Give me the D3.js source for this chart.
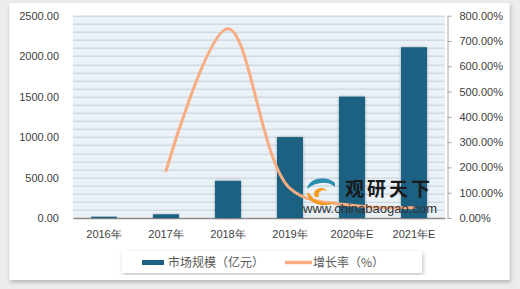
<!DOCTYPE html>
<html>
<head>
<meta charset="utf-8">
<script src="https://cdn.jsdelivr.net/npm/d3@7"></script>
<style>
  body { margin: 0; background: #ececec; }
  svg { display: block; font-family: "Liberation Sans", Arial, sans-serif; }
</style>
</head>
<body>
<div id="chart"></div>
<script>
// data
var years = ["2016年", "2017年", "2018年", "2019年", "2020年E", "2021年E"];
var market = [16, 46, 460, 1000, 1500, 2110];          // 市场规模（亿元）
var growth = [null, 187, 748, 117, 50, 41];            // 增长率（%）
var leftTicks = [0, 500, 1000, 1500, 2000, 2500];
var rightTicks = [0, 100, 200, 300, 400, 500, 600, 700, 800];

var W = 520, H = 289;
var margin = { left: 73, right: 75, top: 15.7, bottom: 71 };
var width = W - margin.left - margin.right,
    height = H - margin.top - margin.bottom;

var svg = d3.select("#chart").append("svg")
    .attr("width", W)
    .attr("height", H);

var defs = svg.append("defs");
var sh = defs.append("filter").attr("id", "shadow")
    .attr("x", "-20%").attr("y", "-20%").attr("width", "140%").attr("height", "140%");
sh.append("feDropShadow").attr("dx", 0).attr("dy", 0).attr("stdDeviation", 1.6)
    .attr("flood-color", "#000").attr("flood-opacity", 0.3);
var sh2 = defs.append("filter").attr("id", "frameShadow")
    .attr("x", "-5%").attr("y", "-5%").attr("width", "110%").attr("height", "110%");
sh2.append("feDropShadow").attr("dx", 1).attr("dy", 2).attr("stdDeviation", 2)
    .attr("flood-color", "#000").attr("flood-opacity", 0.25);

// white chart frame
svg.append("rect")
    .attr("x", 9.5).attr("y", 3).attr("width", 500).attr("height", 277)
    .attr("fill", "#fff").attr("filter", "url(#frameShadow)");

var g = svg.append("g")
    .attr("transform", "translate(" + margin.left + "," + margin.top + ")");

var x = d3.scaleBand().domain(years).range([0, width]).paddingInner(0.58).paddingOuter(0.29);
var y = d3.scaleLinear().domain([0, 2500]).range([height, 0]);
var y2 = d3.scaleLinear().domain([0, 800]).range([height, 0]);

// plot background + minor gridlines
g.append("rect").attr("width", width).attr("height", height).attr("fill", "#eaf1f7");
g.append("g")
  .selectAll("line")
  .data(d3.range(100, 2501, 100))
  .enter().append("line")
    .attr("x1", 0).attr("x2", width)
    .attr("y1", function(d) { return Math.round(y(d)) + 0.5; })
    .attr("y2", function(d) { return Math.round(y(d)) + 0.5; })
    .attr("stroke", "#c5ced7").attr("stroke-width", 1);

// left axis (labels only)
var ax = g.append("g")
    .call(d3.axisLeft(y).tickValues(leftTicks).tickFormat(d3.format(".2f")).tickSize(0).tickPadding(14));
ax.select(".domain").remove();
ax.selectAll("text").attr("font-size", 11).attr("fill", "#404040").attr("font-family", "Liberation Sans, Arial, sans-serif");

// right axis
var ax2 = g.append("g")
    .attr("transform", "translate(" + (width + 2.5) + ",0)")
    .call(d3.axisRight(y2).tickValues(rightTicks)
      .tickFormat(function(d) { return d3.format(".2f")(d) + "%"; })
      .tickSize(4).tickSizeOuter(0).tickPadding(8));
ax2.select(".domain").attr("stroke", "#a6a6a6");
ax2.selectAll(".tick line").attr("stroke", "#a6a6a6");
ax2.selectAll("text").attr("font-size", 11).attr("fill", "#404040").attr("font-family", "Liberation Sans, Arial, sans-serif");

// bottom axis
var ax3 = g.append("g")
    .attr("transform", "translate(0," + height + ")")
    .call(d3.axisBottom(x).tickSize(0).tickPadding(12));
ax3.select(".domain").attr("stroke", "#8c8c8c").attr("stroke-width", 1.3);
ax3.selectAll("text").attr("font-size", 11).attr("fill", "#404040").attr("font-family", "Liberation Sans, Arial, sans-serif");

// bars
g.append("g")
  .selectAll("rect")
  .data(market)
  .enter().append("rect")
    .attr("x", function(d, i) { return x(years[i]); })
    .attr("y", function(d) { return y(d); })
    .attr("width", x.bandwidth())
    .attr("height", function(d) { return height - y(d); })
    .attr("fill", "#1d6182")
    .attr("filter", "url(#shadow)");

// growth line
var line = d3.line()
    .defined(function(d) { return d != null; })
    .x(function(d, i) { return x(years[i]) + x.bandwidth() / 2; })
    .y(function(d) { return y2(d); })
    .curve(d3.curveCatmullRom.alpha(0.5));
g.append("path")
    .datum(growth)
    .attr("d", line)
    .attr("fill", "none")
    .attr("stroke", "#f8ad83")
    .attr("stroke-width", 3)
    .attr("stroke-linecap", "round");

// watermark
var wm = svg.append("g").attr("transform", "translate(305,177)");
wm.append("path").attr("d", "M30,6 C22,-2 4,0 2,12 C12,4 24,4 30,10 Z").attr("fill", "#2c8fb0");
wm.append("path").attr("d", "M2,16 C4,28 20,32 32,24 C22,28 10,26 4,16 Z").attr("fill", "#f39a1e");
wm.append("path").attr("d", "M10,20 C6,12 18,8 22,14 C18,12 12,14 14,20 Z").attr("fill", "#f39a1e");
wm.append("text").attr("x", 40).attr("y", 19)
    .attr("font-size", 19).attr("font-weight", "bold")
    .attr("font-family", "Noto Sans CJK SC, sans-serif")
    .attr("fill", "#1a1a1a").attr("letter-spacing", 3)
    .text("观研天下");
wm.append("text").attr("x", -2).attr("y", 36)
    .attr("font-size", 13).attr("fill", "#333")
    .attr("font-family", "Liberation Sans, Arial, sans-serif")
    .attr("textLength", 134)
    .text("www.chinabaogao.com");

// legend
var lg = svg.append("g").attr("transform", "translate(122,251)");
lg.append("rect").attr("width", 300).attr("height", 22).attr("fill", "#fff")
    .attr("filter", "url(#frameShadow)");
lg.append("rect").attr("x", 20).attr("y", 9).attr("width", 22).attr("height", 5).attr("fill", "#1d6182");
lg.append("text").attr("x", 46).attr("y", 15.5).attr("font-size", 12).attr("fill", "#595959")
    .attr("font-family", "Noto Sans CJK SC, sans-serif").text("市场规模（亿元）");
lg.append("line").attr("x1", 163).attr("x2", 190).attr("y1", 11.5).attr("y2", 11.5)
    .attr("stroke", "#f8ad83").attr("stroke-width", 3.5);
lg.append("text").attr("x", 191).attr("y", 15.5).attr("font-size", 12).attr("fill", "#595959")
    .attr("font-family", "Noto Sans CJK SC, sans-serif").text("增长率（%）");
</script>
</body>
</html>
